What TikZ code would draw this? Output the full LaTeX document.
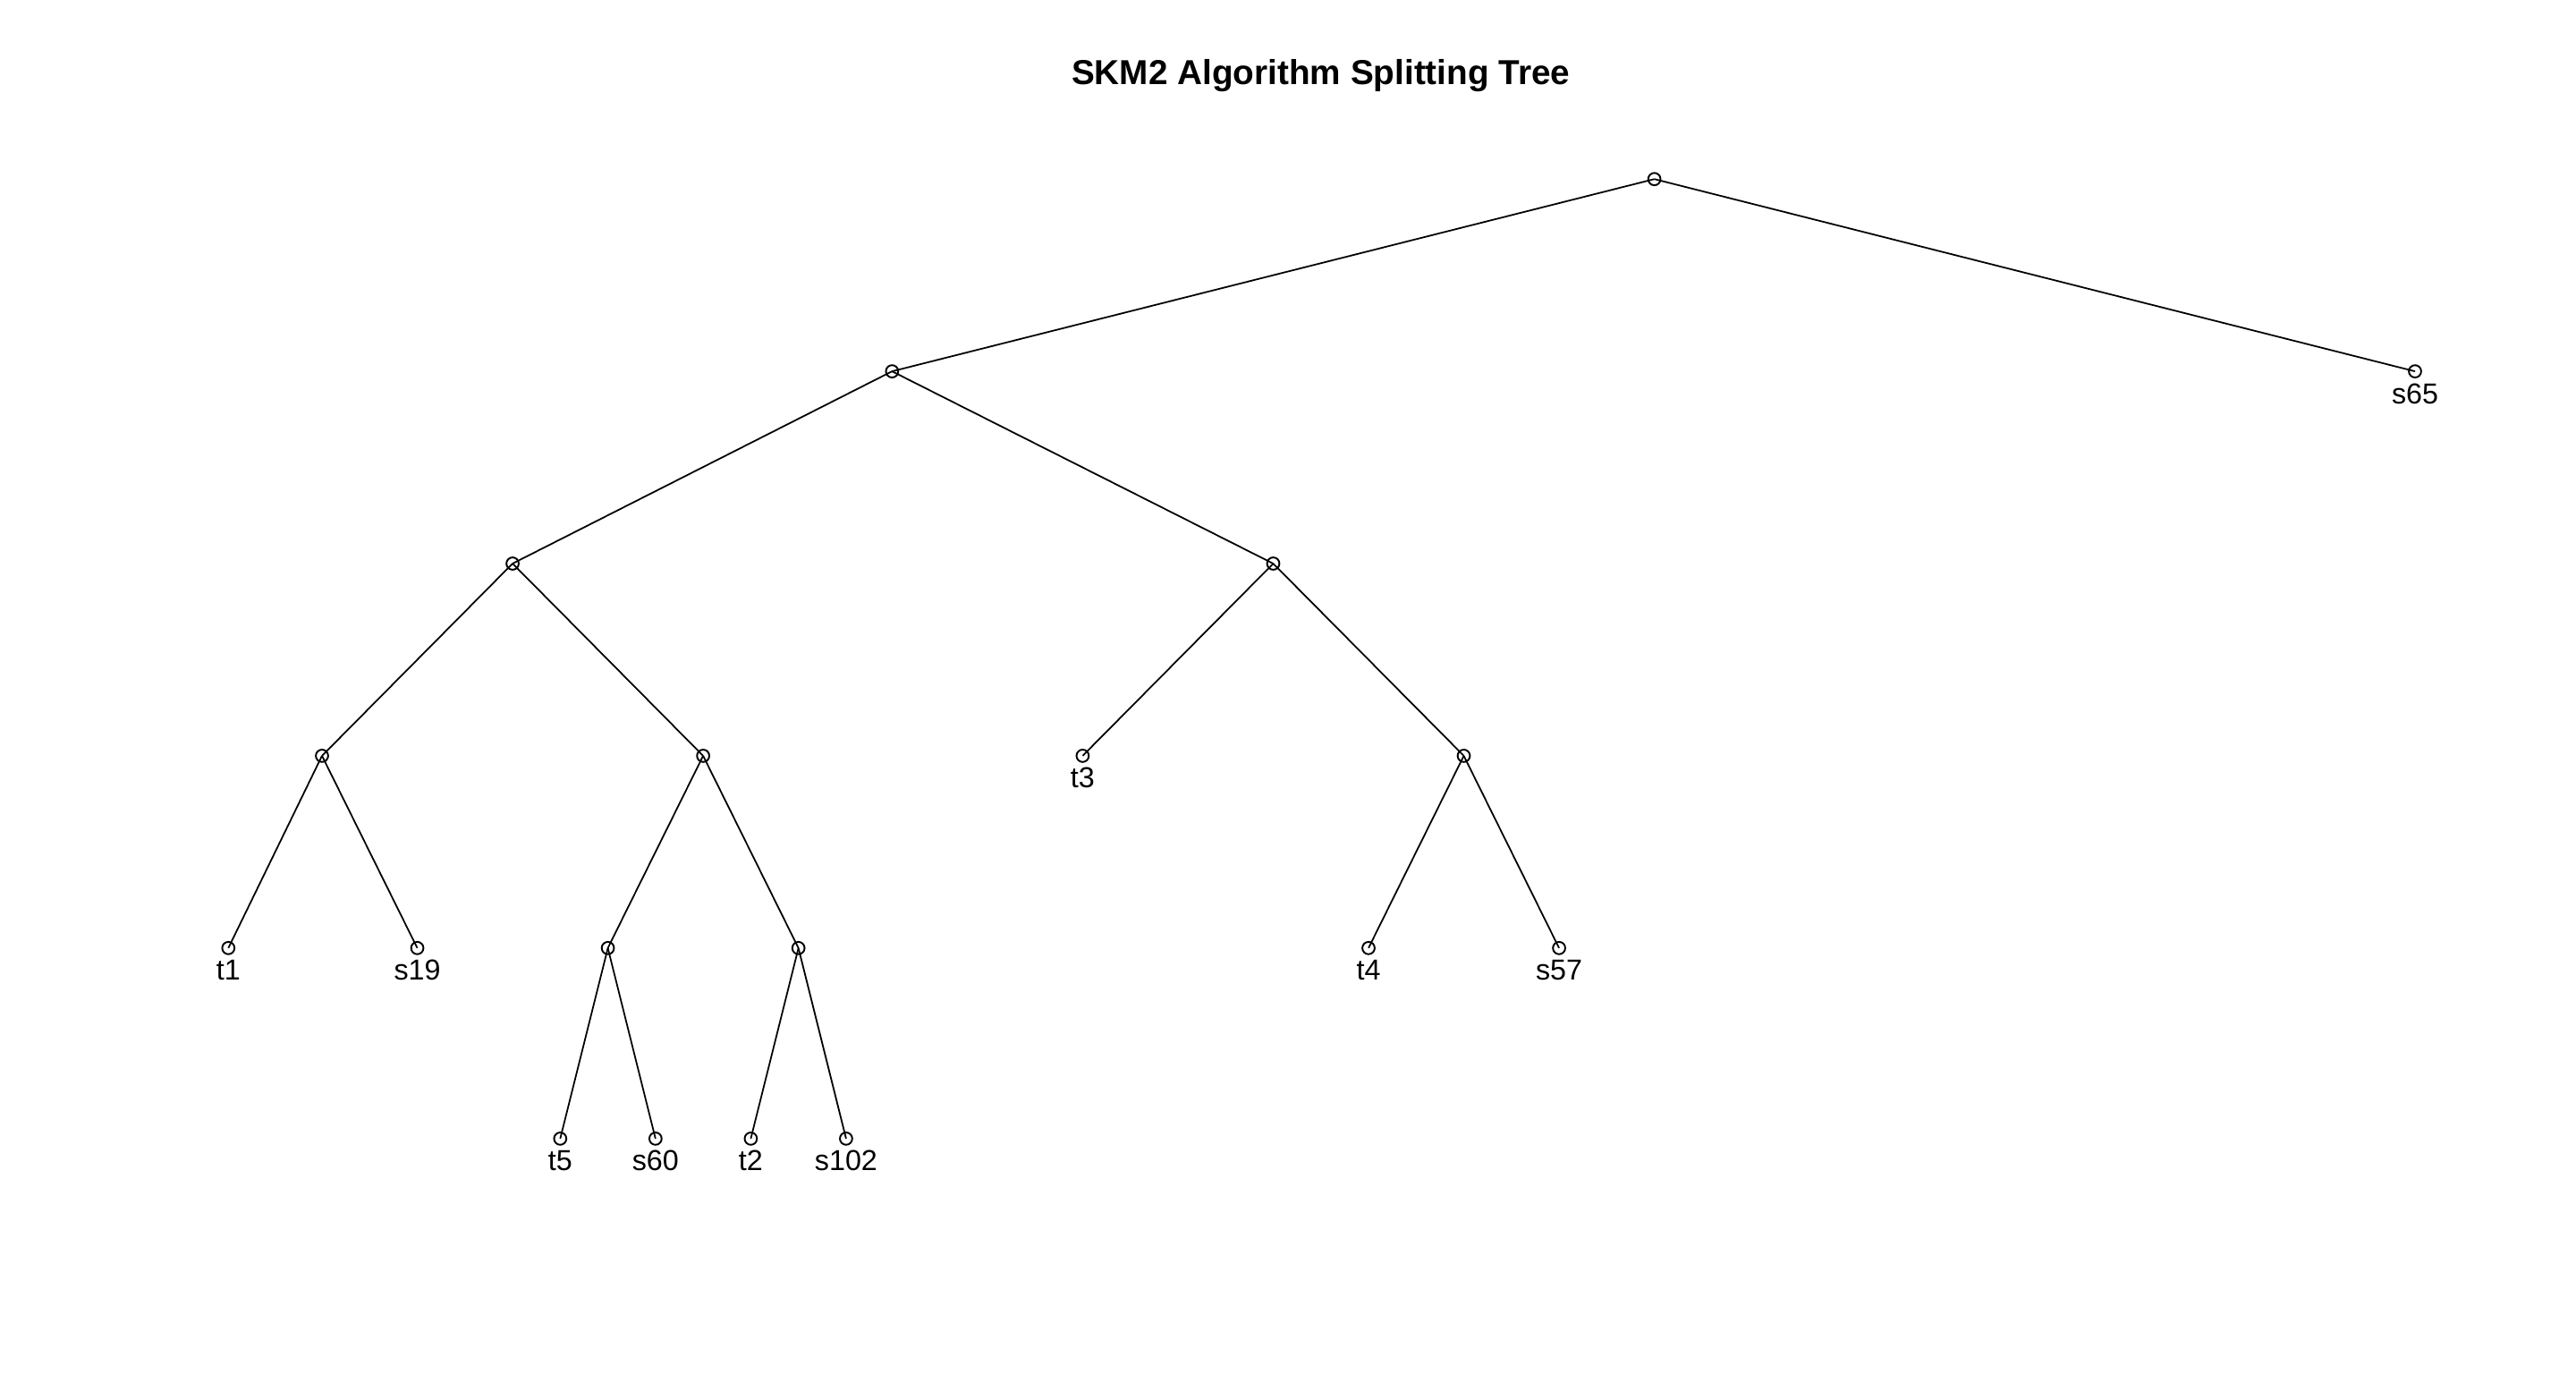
\documentclass[tikz,border=0pt]{standalone}
\usepackage{fontspec}
\setmainfont{Liberation Sans}
\begin{document}
\begin{tikzpicture}[x=0.02cm,y=-0.02cm,
  pt/.style={circle,draw,line width=0.6pt,inner sep=0pt,minimum size=0.15cm},
  lab/.style={inner sep=0pt,font=\fontsize{10}{12}\selectfont},
  edge/.style={line width=0.55pt}]
\useasboundingbox (0,0) rectangle (1568,836);
\node[font=\bfseries\fontsize{12}{14}\selectfont] (title) at (804,46) {SKM2 Algorithm Splitting Tree};
% internal nodes
\node[pt] (r) at (1007,109) {};
\node[pt] (a) at (543,226) {};
\node[pt] (s65) at (1470,226) {};
\node[pt] (b) at (312,343) {};
\node[pt] (c) at (775,343) {};
\node[pt] (d) at (196,460) {};
\node[pt] (e) at (428,460) {};
\node[pt] (t3) at (659,460) {};
\node[pt] (f) at (891,460) {};
\node[pt] (t1) at (139,577) {};
\node[pt] (s19) at (254,577) {};
\node[pt] (g) at (370,577) {};
\node[pt] (h) at (486,577) {};
\node[pt] (t4) at (833,577) {};
\node[pt] (s57) at (949,577) {};
\node[pt] (t5) at (341,693) {};
\node[pt] (s60) at (399,693) {};
\node[pt] (t2) at (457,693) {};
\node[pt] (s102) at (515,693) {};
% edges
\foreach \p/\q in {r/a,r/s65,a/b,a/c,b/d,b/e,c/t3,c/f,d/t1,d/s19,e/g,e/h,f/t4,f/s57,g/t5,g/s60,h/t2,h/s102}
  \draw[edge] (\p.center) -- (\q.center);
% labels
\foreach \n in {s65,t3,t1,s19,t4,s57,t5,s60,t2,s102}
  \node[lab] (l\n) at ([yshift=-0.27cm]\n.center) {\n};
\end{tikzpicture}
\end{document}
